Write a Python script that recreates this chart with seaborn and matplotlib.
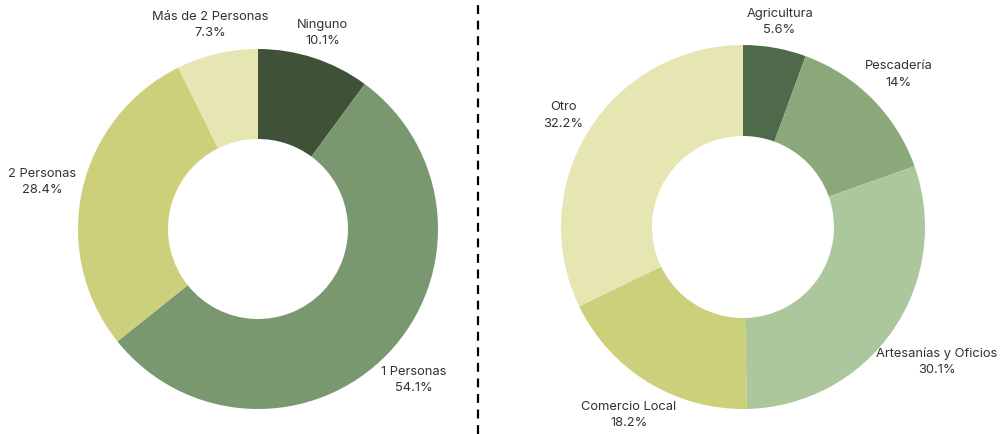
import numpy as np
import matplotlib
matplotlib.use("Agg")
import matplotlib.pyplot as plt
import seaborn as sns
from matplotlib.lines import Line2D

# data
hogar_labels = ['Ninguno', '1 Personas', '2 Personas', 'Más de 2 Personas']
hogar_values = [10.1, 54.1, 28.4, 7.3]
hogar_text = ['10.1%', '54.1%', '28.4%', '7.3%']
hogar_colors = ['#3f5238', '#7a9870', '#ccd07a', '#e6e6b2']

oficio_labels = ['Agricultura', 'Pescadería', 'Artesanías y Oficios', 'Comercio Local', 'Otro']
oficio_values = [5.6, 14, 30.1, 18.2, 32.2]
oficio_text = ['5.6%', '14%', '30.1%', '18.2%', '32.2%']
oficio_colors = ['#4f6a4a', '#8aa87a', '#abc79b', '#ccd07a', '#e6e6b2']

sns.set_theme(style='white')
plt.rcParams['font.family'] = ['Inter', 'DejaVu Sans']

W, H = 1008, 435
fig = plt.figure(figsize=(W / 100, H / 100), dpi=100)


def donut(ax_px, center, radius, values, labels, texts, colors, label_r=1.13):
    x0, x1 = ax_px
    cx, cy = center
    ax = fig.add_axes([x0 / W, 0, (x1 - x0) / W, 1])
    ax.pie(values, colors=colors, startangle=90, counterclock=False,
           wedgeprops=dict(width=0.5, linewidth=0))
    tot = sum(values)
    cum = 0
    for v, lab, t in zip(values, labels, texts):
        mid = np.deg2rad(90 - (cum + v / 2) / tot * 360)
        cum += v
        # wide labels on the sides sit further out so they clear the ring
        r = label_r + 0.01 * len(lab) * abs(np.cos(mid))
        ax.text(r * np.cos(mid), r * np.sin(mid), f'{lab}\n{t}',
                ha='center', va='center', fontsize=9.3, color='#333333',
                linespacing=1.5)
    ax.set_aspect('auto')
    ax.set_xlim((x0 - cx) / radius, (x1 - cx) / radius)
    ax.set_ylim(-(H - cy) / radius, cy / radius)
    ax.axis('off')
    return ax


donut((0, 478), (258, 230), 180, hogar_values, hogar_labels, hogar_text, hogar_colors)
donut((480, 1008), (743, 228), 182, oficio_values, oficio_labels, oficio_text, oficio_colors)

fig.add_artist(Line2D([478 / W, 478 / W], [0, 1], color='black', lw=1.6,
                      linestyle=(0, (4, 3)), transform=fig.transFigure))

fig.savefig('out.png', dpi=100, facecolor='white')
